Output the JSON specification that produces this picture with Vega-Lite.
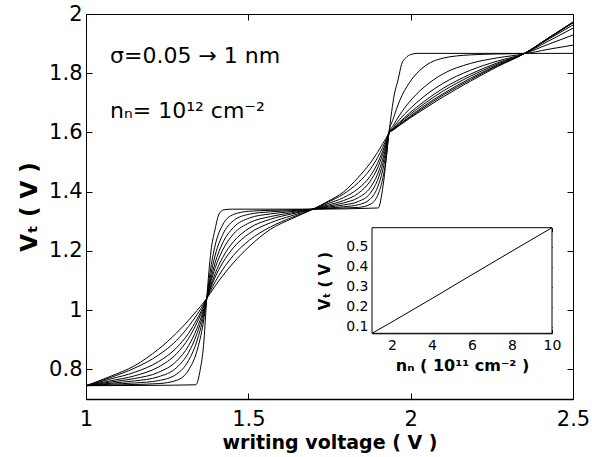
{
"$schema": "https://vega.github.io/schema/vega-lite/v6.json",
"width": 487, "height": 385,
"autosize": {"type": "none"},
"padding": {"left": 86, "top": 14, "right": 19, "bottom": 58},
"background": "white",
"config": {"font": "DejaVu Sans", "view": {"stroke": "black", "strokeWidth": 1},
  "axis": {"grid": false, "labelColor": "black", "titleColor": "black", "tickColor": "black", "domainColor": "black", "labelFlush": false, "labelOverlap": false, "labelFont": "DejaVu Sans", "titleFont": "DejaVu Sans"}},
"datasets": {
"curves": [
{"curve":"c1","x":1.0,"y":0.745},{"curve":"c1","x":1.2,"y":0.746},{"curve":"c1","x":1.338,"y":0.748},{"curve":"c1","x":1.352,"y":0.80},{"curve":"c1","x":1.362,"y":0.88},{"curve":"c1","x":1.372,"y":1.04},{"curve":"c1","x":1.385,"y":1.20},{"curve":"c1","x":1.397,"y":1.27},{"curve":"c1","x":1.41,"y":1.325},{"curve":"c1","x":1.425,"y":1.339},{"curve":"c1","x":1.45,"y":1.341},{"curve":"c1","x":1.699,"y":1.341},{"curve":"c1","x":1.90,"y":1.345},{"curve":"c1","x":1.915,"y":1.42},{"curve":"c1","x":1.933,"y":1.598},{"curve":"c1","x":1.95,"y":1.73},{"curve":"c1","x":1.961,"y":1.777},{"curve":"c1","x":1.972,"y":1.83},{"curve":"c1","x":1.985,"y":1.852},{"curve":"c1","x":2.0,"y":1.863},{"curve":"c1","x":2.02,"y":1.867},{"curve":"c1","x":2.351,"y":1.867},{"curve":"c1","x":2.5,"y":1.867},

{"curve":"c2","x":1.0,"y":0.745},{"curve":"c2","x":1.074,"y":0.747},{"curve":"c2","x":1.149,"y":0.749},{"curve":"c2","x":1.223,"y":0.752},{"curve":"c2","x":1.279,"y":0.763},{"curve":"c2","x":1.316,"y":0.798},{"curve":"c2","x":1.342,"y":0.863},{"curve":"c2","x":1.361,"y":0.956},{"curve":"c2","x":1.372,"y":1.04},{"curve":"c2","x":1.382,"y":1.126},{"curve":"c2","x":1.398,"y":1.220},{"curve":"c2","x":1.421,"y":1.288},{"curve":"c2","x":1.454,"y":1.323},{"curve":"c2","x":1.503,"y":1.334},{"curve":"c2","x":1.568,"y":1.337},{"curve":"c2","x":1.634,"y":1.339},{"curve":"c2","x":1.699,"y":1.341},{"curve":"c2","x":1.746,"y":1.343},{"curve":"c2","x":1.793,"y":1.345},{"curve":"c2","x":1.839,"y":1.347},{"curve":"c2","x":1.875,"y":1.357},{"curve":"c2","x":1.898,"y":1.387},{"curve":"c2","x":1.914,"y":1.444},{"curve":"c2","x":1.926,"y":1.524},{"curve":"c2","x":1.933,"y":1.598},{"curve":"c2","x":1.946,"y":1.645},{"curve":"c2","x":1.966,"y":1.707},{"curve":"c2","x":1.996,"y":1.768},{"curve":"c2","x":2.038,"y":1.819},{"curve":"c2","x":2.1,"y":1.851},{"curve":"c2","x":2.184,"y":1.862},{"curve":"c2","x":2.267,"y":1.865},{"curve":"c2","x":2.351,"y":1.867},{"curve":"c2","x":2.42,"y":1.880},{"curve":"c2","x":2.5,"y":1.895},

{"curve":"c3","x":1.0,"y":0.745},{"curve":"c3","x":1.074,"y":0.750},{"curve":"c3","x":1.149,"y":0.754},{"curve":"c3","x":1.223,"y":0.762},{"curve":"c3","x":1.279,"y":0.784},{"curve":"c3","x":1.316,"y":0.830},{"curve":"c3","x":1.342,"y":0.897},{"curve":"c3","x":1.361,"y":0.975},{"curve":"c3","x":1.372,"y":1.04},{"curve":"c3","x":1.382,"y":1.106},{"curve":"c3","x":1.398,"y":1.186},{"curve":"c3","x":1.421,"y":1.255},{"curve":"c3","x":1.454,"y":1.302},{"curve":"c3","x":1.503,"y":1.324},{"curve":"c3","x":1.568,"y":1.332},{"curve":"c3","x":1.634,"y":1.336},{"curve":"c3","x":1.699,"y":1.341},{"curve":"c3","x":1.746,"y":1.345},{"curve":"c3","x":1.793,"y":1.349},{"curve":"c3","x":1.839,"y":1.356},{"curve":"c3","x":1.875,"y":1.375},{"curve":"c3","x":1.898,"y":1.415},{"curve":"c3","x":1.914,"y":1.473},{"curve":"c3","x":1.926,"y":1.542},{"curve":"c3","x":1.933,"y":1.598},{"curve":"c3","x":1.946,"y":1.623},{"curve":"c3","x":1.966,"y":1.659},{"curve":"c3","x":1.996,"y":1.703},{"curve":"c3","x":2.038,"y":1.750},{"curve":"c3","x":2.1,"y":1.798},{"curve":"c3","x":2.184,"y":1.833},{"curve":"c3","x":2.267,"y":1.852},{"curve":"c3","x":2.351,"y":1.867},{"curve":"c3","x":2.42,"y":1.896},{"curve":"c3","x":2.5,"y":1.929},

{"curve":"c4","x":1.0,"y":0.745},{"curve":"c4","x":1.074,"y":0.753},{"curve":"c4","x":1.149,"y":0.761},{"curve":"c4","x":1.223,"y":0.775},{"curve":"c4","x":1.279,"y":0.806},{"curve":"c4","x":1.316,"y":0.857},{"curve":"c4","x":1.342,"y":0.921},{"curve":"c4","x":1.361,"y":0.988},{"curve":"c4","x":1.372,"y":1.04},{"curve":"c4","x":1.382,"y":1.093},{"curve":"c4","x":1.398,"y":1.161},{"curve":"c4","x":1.421,"y":1.227},{"curve":"c4","x":1.454,"y":1.279},{"curve":"c4","x":1.503,"y":1.311},{"curve":"c4","x":1.568,"y":1.325},{"curve":"c4","x":1.634,"y":1.333},{"curve":"c4","x":1.699,"y":1.341},{"curve":"c4","x":1.746,"y":1.348},{"curve":"c4","x":1.793,"y":1.355},{"curve":"c4","x":1.839,"y":1.367},{"curve":"c4","x":1.875,"y":1.394},{"curve":"c4","x":1.898,"y":1.439},{"curve":"c4","x":1.914,"y":1.494},{"curve":"c4","x":1.926,"y":1.553},{"curve":"c4","x":1.933,"y":1.598},{"curve":"c4","x":1.946,"y":1.616},{"curve":"c4","x":1.966,"y":1.644},{"curve":"c4","x":1.996,"y":1.678},{"curve":"c4","x":2.038,"y":1.719},{"curve":"c4","x":2.1,"y":1.766},{"curve":"c4","x":2.184,"y":1.810},{"curve":"c4","x":2.267,"y":1.841},{"curve":"c4","x":2.351,"y":1.867},{"curve":"c4","x":2.42,"y":1.906},{"curve":"c4","x":2.5,"y":1.952},

{"curve":"c5","x":1.0,"y":0.745},{"curve":"c5","x":1.074,"y":0.757},{"curve":"c5","x":1.149,"y":0.769},{"curve":"c5","x":1.223,"y":0.790},{"curve":"c5","x":1.279,"y":0.828},{"curve":"c5","x":1.316,"y":0.880},{"curve":"c5","x":1.342,"y":0.939},{"curve":"c5","x":1.361,"y":0.997},{"curve":"c5","x":1.372,"y":1.04},{"curve":"c5","x":1.382,"y":1.084},{"curve":"c5","x":1.398,"y":1.143},{"curve":"c5","x":1.421,"y":1.203},{"curve":"c5","x":1.454,"y":1.257},{"curve":"c5","x":1.503,"y":1.295},{"curve":"c5","x":1.568,"y":1.316},{"curve":"c5","x":1.634,"y":1.329},{"curve":"c5","x":1.699,"y":1.341},{"curve":"c5","x":1.746,"y":1.351},{"curve":"c5","x":1.793,"y":1.362},{"curve":"c5","x":1.839,"y":1.380},{"curve":"c5","x":1.875,"y":1.413},{"curve":"c5","x":1.898,"y":1.459},{"curve":"c5","x":1.914,"y":1.510},{"curve":"c5","x":1.926,"y":1.561},{"curve":"c5","x":1.933,"y":1.598},{"curve":"c5","x":1.946,"y":1.613},{"curve":"c5","x":1.966,"y":1.635},{"curve":"c5","x":1.996,"y":1.665},{"curve":"c5","x":2.038,"y":1.702},{"curve":"c5","x":2.1,"y":1.749},{"curve":"c5","x":2.184,"y":1.797},{"curve":"c5","x":2.267,"y":1.835},{"curve":"c5","x":2.351,"y":1.867},{"curve":"c5","x":2.42,"y":1.912},{"curve":"c5","x":2.5,"y":1.963},

{"curve":"c6","x":1.0,"y":0.745},{"curve":"c6","x":1.074,"y":0.761},{"curve":"c6","x":1.149,"y":0.778},{"curve":"c6","x":1.223,"y":0.808},{"curve":"c6","x":1.279,"y":0.853},{"curve":"c6","x":1.316,"y":0.905},{"curve":"c6","x":1.342,"y":0.958},{"curve":"c6","x":1.361,"y":1.006},{"curve":"c6","x":1.372,"y":1.04},{"curve":"c6","x":1.382,"y":1.075},{"curve":"c6","x":1.398,"y":1.124},{"curve":"c6","x":1.421,"y":1.178},{"curve":"c6","x":1.454,"y":1.231},{"curve":"c6","x":1.503,"y":1.277},{"curve":"c6","x":1.568,"y":1.307},{"curve":"c6","x":1.634,"y":1.325},{"curve":"c6","x":1.699,"y":1.341},{"curve":"c6","x":1.746,"y":1.355},{"curve":"c6","x":1.793,"y":1.370},{"curve":"c6","x":1.839,"y":1.395},{"curve":"c6","x":1.875,"y":1.435},{"curve":"c6","x":1.898,"y":1.480},{"curve":"c6","x":1.914,"y":1.526},{"curve":"c6","x":1.926,"y":1.568},{"curve":"c6","x":1.933,"y":1.598},{"curve":"c6","x":1.946,"y":1.611},{"curve":"c6","x":1.966,"y":1.632},{"curve":"c6","x":1.996,"y":1.659},{"curve":"c6","x":2.038,"y":1.694},{"curve":"c6","x":2.1,"y":1.740},{"curve":"c6","x":2.184,"y":1.790},{"curve":"c6","x":2.267,"y":1.831},{"curve":"c6","x":2.351,"y":1.867},{"curve":"c6","x":2.42,"y":1.915},{"curve":"c6","x":2.5,"y":1.970},

{"curve":"c7","x":1.0,"y":0.745},{"curve":"c7","x":1.074,"y":0.767},{"curve":"c7","x":1.149,"y":0.790},{"curve":"c7","x":1.223,"y":0.826},{"curve":"c7","x":1.279,"y":0.873},{"curve":"c7","x":1.316,"y":0.922},{"curve":"c7","x":1.342,"y":0.970},{"curve":"c7","x":1.361,"y":1.011},{"curve":"c7","x":1.372,"y":1.04},{"curve":"c7","x":1.382,"y":1.069},{"curve":"c7","x":1.398,"y":1.112},{"curve":"c7","x":1.421,"y":1.160},{"curve":"c7","x":1.454,"y":1.211},{"curve":"c7","x":1.503,"y":1.259},{"curve":"c7","x":1.568,"y":1.295},{"curve":"c7","x":1.634,"y":1.319},{"curve":"c7","x":1.699,"y":1.341},{"curve":"c7","x":1.746,"y":1.360},{"curve":"c7","x":1.793,"y":1.380},{"curve":"c7","x":1.839,"y":1.411},{"curve":"c7","x":1.875,"y":1.452},{"curve":"c7","x":1.898,"y":1.496},{"curve":"c7","x":1.914,"y":1.537},{"curve":"c7","x":1.926,"y":1.573},{"curve":"c7","x":1.933,"y":1.598},{"curve":"c7","x":1.946,"y":1.610},{"curve":"c7","x":1.966,"y":1.628},{"curve":"c7","x":1.996,"y":1.653},{"curve":"c7","x":2.038,"y":1.687},{"curve":"c7","x":2.1,"y":1.731},{"curve":"c7","x":2.184,"y":1.783},{"curve":"c7","x":2.267,"y":1.827},{"curve":"c7","x":2.351,"y":1.867},{"curve":"c7","x":2.42,"y":1.915},{"curve":"c7","x":2.5,"y":1.971},

{"curve":"c8","x":1.0,"y":0.745},{"curve":"c8","x":1.074,"y":0.772},{"curve":"c8","x":1.149,"y":0.804},{"curve":"c8","x":1.223,"y":0.848},{"curve":"c8","x":1.279,"y":0.898},{"curve":"c8","x":1.316,"y":0.945},{"curve":"c8","x":1.342,"y":0.985},{"curve":"c8","x":1.361,"y":1.018},{"curve":"c8","x":1.372,"y":1.04},{"curve":"c8","x":1.382,"y":1.062},{"curve":"c8","x":1.398,"y":1.096},{"curve":"c8","x":1.421,"y":1.137},{"curve":"c8","x":1.454,"y":1.185},{"curve":"c8","x":1.503,"y":1.236},{"curve":"c8","x":1.568,"y":1.281},{"curve":"c8","x":1.634,"y":1.313},{"curve":"c8","x":1.699,"y":1.341},{"curve":"c8","x":1.746,"y":1.365},{"curve":"c8","x":1.793,"y":1.392},{"curve":"c8","x":1.839,"y":1.431},{"curve":"c8","x":1.875,"y":1.475},{"curve":"c8","x":1.898,"y":1.515},{"curve":"c8","x":1.914,"y":1.550},{"curve":"c8","x":1.926,"y":1.579},{"curve":"c8","x":1.933,"y":1.598},{"curve":"c8","x":1.946,"y":1.609},{"curve":"c8","x":1.966,"y":1.626},{"curve":"c8","x":1.996,"y":1.650},{"curve":"c8","x":2.038,"y":1.682},{"curve":"c8","x":2.1,"y":1.726},{"curve":"c8","x":2.184,"y":1.778},{"curve":"c8","x":2.267,"y":1.825},{"curve":"c8","x":2.351,"y":1.867},{"curve":"c8","x":2.42,"y":1.916},{"curve":"c8","x":2.5,"y":1.972},

{"curve":"c9","x":1.0,"y":0.745},{"curve":"c9","x":1.074,"y":0.776},{"curve":"c9","x":1.149,"y":0.812},{"curve":"c9","x":1.223,"y":0.868},{"curve":"c9","x":1.279,"y":0.923},{"curve":"c9","x":1.316,"y":0.966},{"curve":"c9","x":1.342,"y":0.999},{"curve":"c9","x":1.361,"y":1.024},{"curve":"c9","x":1.372,"y":1.04},{"curve":"c9","x":1.382,"y":1.056},{"curve":"c9","x":1.398,"y":1.082},{"curve":"c9","x":1.421,"y":1.116},{"curve":"c9","x":1.454,"y":1.160},{"curve":"c9","x":1.503,"y":1.215},{"curve":"c9","x":1.568,"y":1.273},{"curve":"c9","x":1.634,"y":1.309},{"curve":"c9","x":1.699,"y":1.341},{"curve":"c9","x":1.746,"y":1.368},{"curve":"c9","x":1.793,"y":1.399},{"curve":"c9","x":1.839,"y":1.449},{"curve":"c9","x":1.875,"y":1.496},{"curve":"c9","x":1.898,"y":1.533},{"curve":"c9","x":1.914,"y":1.562},{"curve":"c9","x":1.926,"y":1.584},{"curve":"c9","x":1.933,"y":1.598},{"curve":"c9","x":1.946,"y":1.608},{"curve":"c9","x":1.966,"y":1.624},{"curve":"c9","x":1.996,"y":1.647},{"curve":"c9","x":2.038,"y":1.677},{"curve":"c9","x":2.1,"y":1.720},{"curve":"c9","x":2.184,"y":1.773},{"curve":"c9","x":2.267,"y":1.822},{"curve":"c9","x":2.351,"y":1.867},{"curve":"c9","x":2.42,"y":1.916},{"curve":"c9","x":2.5,"y":1.973}
],
"inset": [
{"nn":1,"vt":0.067},{"nn":2,"vt":0.124},{"nn":4,"vt":0.241},{"nn":6,"vt":0.36},{"nn":8,"vt":0.478},{"nn":10,"vt":0.595}
]
},
"resolve": {"scale": {"x": "independent", "y": "independent"}, "axis": {"x": "independent", "y": "independent"}},
"layer": [
{
 "data": {"name": "curves"},
 "mark": {"type": "line", "color": "black", "strokeWidth": 1, "interpolate": "monotone"},
 "encoding": {
  "x": {"field": "x", "type": "quantitative", "scale": {"domain": [1, 2.5], "nice": false, "zero": false},
        "axis": {"orient": "bottom", "values": [1, 1.5, 2, 2.5], "format": "~g", "labelFontSize": 21, "tickSize": -6, "labelPadding": 15, "domainWidth": 1.5,
                 "title": "writing voltage ( V )", "titleFontSize": 19, "titleFontWeight": "bold", "titlePadding": 4}},
  "y": {"field": "y", "type": "quantitative", "scale": {"domain": [0.7, 2], "nice": false, "zero": false},
        "axis": {"orient": "left", "values": [0.8, 1, 1.2, 1.4, 1.6, 1.8, 2], "format": "~g", "labelFontSize": 21, "tickSize": -6, "labelPadding": 10,
                 "title": "Vₜ ( V )", "titleFontSize": 23, "titleFontWeight": "bold", "titlePadding": 7}},
  "detail": {"field": "curve", "type": "nominal"},
  "order": {"field": "x", "type": "quantitative"}
 }
},
{
 "data": {"name": "curves"},
 "mark": {"type": "line", "opacity": 0},
 "encoding": {
  "x": {"field": "x", "type": "quantitative", "scale": {"domain": [1, 2.5], "nice": false, "zero": false},
        "axis": {"orient": "top", "values": [1, 1.5, 2, 2.5], "labels": false, "tickSize": -6, "domain": false, "title": null}},
  "y": {"field": "y", "type": "quantitative", "scale": {"domain": [0.7, 2], "nice": false, "zero": false},
        "axis": {"orient": "right", "values": [0.8, 1, 1.2, 1.4, 1.6, 1.8, 2], "labels": false, "tickSize": -6, "domain": false, "title": null}},
  "detail": {"field": "curve", "type": "nominal"}
 }
},
{
 "data": {"values": [{}]},
 "mark": {"type": "text", "align": "left", "baseline": "alphabetic", "fontSize": 22, "font": "DejaVu Sans", "color": "black"},
 "encoding": {
  "x": {"datum": 1.074, "type": "quantitative", "scale": {"domain": [1, 2.5], "nice": false, "zero": false}, "axis": null},
  "y": {"datum": 1.835, "type": "quantitative", "scale": {"domain": [0.7, 2], "nice": false, "zero": false}, "axis": null},
  "text": {"value": "σ=0.05 → 1  nm"}
 }
},
{
 "data": {"values": [{}]},
 "mark": {"type": "text", "align": "left", "baseline": "alphabetic", "fontSize": 22, "font": "DejaVu Sans", "color": "black"},
 "encoding": {
  "x": {"datum": 1.074, "type": "quantitative", "scale": {"domain": [1, 2.5], "nice": false, "zero": false}, "axis": null},
  "y": {"datum": 1.648, "type": "quantitative", "scale": {"domain": [0.7, 2], "nice": false, "zero": false}, "axis": null},
  "text": {"value": "nₙ= 10¹² cm⁻²"}
 }
},
{
 "data": {"values": [{}]},
 "mark": {"type": "rect", "fill": "white", "stroke": "black", "strokeWidth": 1},
 "encoding": {
  "x": {"datum": 1, "type": "quantitative", "scale": {"domain": [1, 10], "range": [286, 466], "nice": false, "zero": false}, "axis": null},
  "x2": {"datum": 10},
  "y": {"datum": 0.067, "type": "quantitative", "scale": {"domain": [0.067, 0.595], "range": [319.3, 213.7], "nice": false, "zero": false}, "axis": null},
  "y2": {"datum": 0.595}
 }
},
{
 "data": {"name": "inset"},
 "mark": {"type": "line", "color": "black", "strokeWidth": 1},
 "encoding": {
  "x": {"field": "nn", "type": "quantitative", "scale": {"domain": [1, 10], "range": [286, 466], "nice": false, "zero": false},
        "axis": {"orient": "bottom", "offset": -65.7, "values": [2, 4, 6, 8, 10], "labelFontSize": 14, "tickSize": -4, "labelPadding": 9,
                 "title": "nₙ ( 10¹¹ cm⁻² )", "titleFontSize": 16, "titleFontWeight": "bold", "titlePadding": 5}},
  "y": {"field": "vt", "type": "quantitative", "scale": {"domain": [0.067, 0.595], "range": [319.3, 213.7], "nice": false, "zero": false},
        "axis": {"orient": "left", "offset": -286, "values": [0.1, 0.2, 0.3, 0.4, 0.5], "format": "~g", "labelFontSize": 14, "tickSize": -4, "labelPadding": 8,
                 "title": "Vₜ ( V )", "titleFontSize": 15, "titleFontWeight": "bold", "titlePadding": 13}},
  "order": {"field": "nn", "type": "quantitative"}
 }
},
{
 "data": {"name": "inset"},
 "mark": {"type": "line", "opacity": 0},
 "encoding": {
  "x": {"field": "nn", "type": "quantitative", "scale": {"domain": [1, 10], "range": [286, 466], "nice": false, "zero": false},
        "axis": {"orient": "top", "offset": -213.7, "values": [2, 4, 6, 8, 10], "labels": false, "tickSize": -4, "domain": false, "title": null}},
  "y": {"field": "vt", "type": "quantitative", "scale": {"domain": [0.067, 0.595], "range": [319.3, 213.7], "nice": false, "zero": false},
        "axis": {"orient": "right", "offset": -21, "values": [0.1, 0.2, 0.3, 0.4, 0.5], "labels": false, "tickSize": -4, "domain": false, "title": null}}
 }
}
]
}
